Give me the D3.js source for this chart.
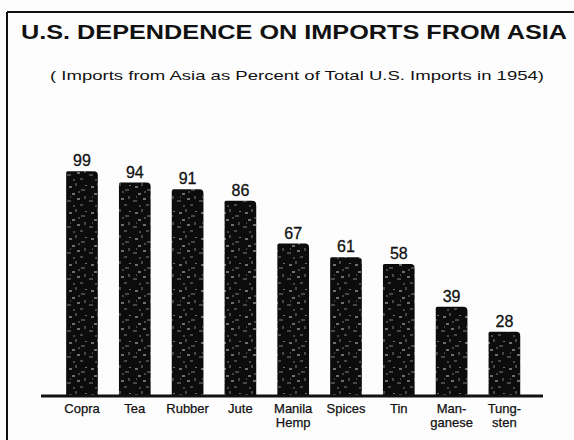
<!DOCTYPE html>
<html>
<head>
<meta charset="utf-8">
<script src="https://cdn.jsdelivr.net/npm/d3@7"></script>
<style>
  body { margin: 0; background: #fff; }
  svg { display: block; }
  text { font-family: "Liberation Sans", Arial, sans-serif; fill: #111; }
</style>
</head>
<body>
<svg id="chart"></svg>
<script>
const categories = ["Copra", "Tea", "Rubber", "Jute", "Manila Hemp", "Spices", "Tin", "Manganese", "Tungsten"];
const percents = [99, 94, 91, 86, 67, 61, 58, 39, 28];
// how each category label is split over lines under the bar
const labelLines = [["Copra"], ["Tea"], ["Rubber"], ["Jute"], ["Manila", "Hemp"], ["Spices"], ["Tin"], ["Man-", "ganese"], ["Tung-", "sten"]];

const width = 574, height = 440;
const baseY = 395;

const svg = d3.select("#chart")
    .attr("width", width)
    .attr("height", height);

svg.append("rect").attr("width", width).attr("height", height).attr("fill", "#fdfdfd");

// speckled texture for the bars
const defs = svg.append("defs");
const pat = defs.append("pattern")
    .attr("id", "speckle")
    .attr("patternUnits", "userSpaceOnUse")
    .attr("width", 22).attr("height", 26);
pat.append("rect").attr("width", 22).attr("height", 26).attr("fill", "#0c0c0c");
const specks = [[3, 4, 3, 2], [9, 1, 2, 3], [15, 7, 4, 2], [6, 11, 3, 2], [18, 14, 2, 3],
    [1, 18, 4, 2], [11, 16, 3, 2], [14, 22, 3, 2], [7, 23, 2, 2], [19, 3, 2, 1], [12, 9, 2, 2], [4, 14, 1, 2]];
pat.selectAll("rect.s").data(specks).join("rect")
    .attr("class", "s")
    .attr("x", d => d[0]).attr("y", d => d[1])
    .attr("width", d => d[2]).attr("height", d => d[3])
    .attr("fill", (d, i) => i % 3 === 0 ? "#6e6e6e" : "#474747");

// frame (top and left edges only)
svg.append("line").attr("x1", 7).attr("x2", width).attr("y1", 12).attr("y2", 12)
    .attr("stroke", "#111").attr("stroke-width", 2);
svg.append("line").attr("x1", 7).attr("x2", 7).attr("y1", 12).attr("y2", height)
    .attr("stroke", "#111").attr("stroke-width", 2);

// titles
svg.append("text")
    .attr("x", 294).attr("y", 39)
    .attr("text-anchor", "middle")
    .attr("font-size", 21).attr("font-weight", "bold")
    .attr("textLength", 546).attr("lengthAdjust", "spacingAndGlyphs")
    .text("U.S. DEPENDENCE ON IMPORTS FROM ASIA");

svg.append("text")
    .attr("x", 297).attr("y", 80)
    .attr("text-anchor", "middle")
    .attr("font-size", 13)
    .attr("textLength", 494).attr("lengthAdjust", "spacingAndGlyphs")
    .text("( Imports from Asia as Percent of Total U.S. Imports in 1954)");

const x = d3.scaleBand()
    .domain(categories)
    .range([55.6, 530.8])
    .paddingInner(0.4)
    .paddingOuter(0.2);

const y = d3.scaleLinear()
    .domain([0, 100])
    .range([baseY, baseY - 226]);

const rows = categories.map((c, i) => ({ cat: c, value: percents[i], lines: labelLines[i] }));

function barPath(d) {
    const x0 = x(d.cat), x1 = x0 + x.bandwidth();
    const top = y(d.value), r = 4, rl = 1.5;
    return `M${x0},${baseY} L${x0},${top + rl} Q${x0},${top} ${x0 + rl},${top} ` +
        `L${x1 - r},${top} Q${x1},${top} ${x1},${top + r} L${x1},${baseY} Z`;
}

svg.selectAll(".bar")
    .data(rows)
    .join("path")
    .attr("class", "bar")
    .attr("d", barPath)
    .attr("fill", "url(#speckle)");

svg.selectAll(".val")
    .data(rows)
    .join("text")
    .attr("class", "val")
    .attr("x", d => x(d.cat) + x.bandwidth() / 2)
    .attr("y", d => y(d.value) - 5)
    .attr("text-anchor", "middle")
    .attr("font-size", 16)
    .attr("stroke", "#111").attr("stroke-width", 0.3)
    .text(d => d.value);

// base line
svg.append("line")
    .attr("x1", 41).attr("x2", 543)
    .attr("y1", baseY + 1).attr("y2", baseY + 1)
    .attr("stroke", "#111").attr("stroke-width", 3);

const labels = svg.selectAll(".cat")
    .data(rows)
    .join("g")
    .attr("class", "cat");

labels.selectAll("text")
    .data(d => d.lines.map(l => ({ l, cx: x(d.cat) + x.bandwidth() / 2 })))
    .join("text")
    .attr("x", d => d.cx)
    .attr("y", (d, i) => 413 + i * 14)
    .attr("text-anchor", "middle")
    .attr("font-size", 13)
    .attr("stroke", "#111").attr("stroke-width", 0.25)
    .text(d => d.l);
</script>
</body>
</html>
